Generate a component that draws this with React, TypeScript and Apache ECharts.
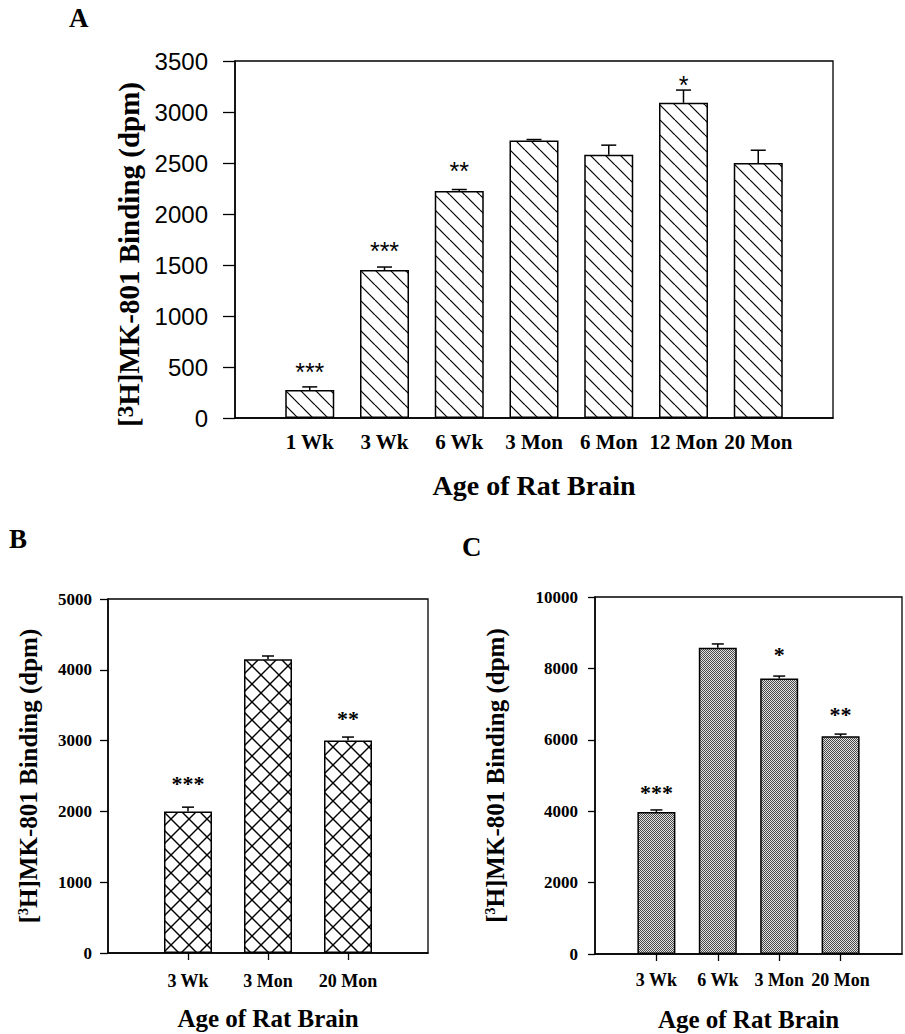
import React, { useEffect, useRef } from "react";
import * as echarts from "echarts";

const SERIF = "'Liberation Serif', 'Times New Roman', serif";
const SANS = "'Liberation Sans', Arial, sans-serif";

// Panel A
const catsA = ["1 Wk", "3 Wk", "6 Wk", "3 Mon", "6 Mon", "12 Mon", "20 Mon"];
const valsA = [275, 1450, 2225, 2720, 2580, 3090, 2500];
const errA = [30, 30, 15, 10, 95, 125, 125];
const starsA = ["***", "***", "**", "", "", "*", ""];
const starPosA = [490, 1676, 2461, 0, 0, 3304, 0];
const ticksA = { min: 0, max: 3500, interval: 500 };

// Panel B
const catsB = ["3 Wk", "3 Mon", "20 Mon"];
const valsB = [2000, 4150, 3000];
const errB = [60, 45, 50];
const starsB = ["***", "", "**"];
const starPosB = [2443, 0, 3361];
const ticksB = { min: 0, max: 5000, interval: 1000 };

// Panel C
const catsC = ["3 Wk", "6 Wk", "3 Mon", "20 Mon"];
const valsC = [3980, 8580, 7720, 6100];
const errC = [55, 105, 65, 60];
const starsC = ["***", "", "*", "**"];
const starPosC = [4622, 0, 8487, 6807];
const ticksC = { min: 0, max: 10000, interval: 2000 };

const yTitle = "{a|[}{s|3}{a|H]MK-801 Binding (dpm)}";
const xTitle = "Age of Rat Brain";

function patternImage(kind: string) {
  const c = document.createElement("canvas");
  if (kind === "dots") {
    c.width = 2;
    c.height = 2;
    const g = c.getContext("2d")!;
    g.fillStyle = "#e2e2e2";
    g.fillRect(0, 0, 2, 2);
    g.fillStyle = "#4a4a4a";
    g.fillRect(0, 0, 1, 1);
    g.fillRect(1, 1, 1, 1);
    return { image: c.toDataURL(), repeat: "repeat", imageWidth: 2, imageHeight: 2 };
  }
  const s = kind === "diag" ? 15 : 18;
  c.width = s;
  c.height = s;
  const g = c.getContext("2d")!;
  g.fillStyle = "#fff";
  g.fillRect(0, 0, s, s);
  g.strokeStyle = "#000";
  g.lineWidth = kind === "diag" ? 1.2 : 1.4;
  const seg = (x1: number, y1: number, x2: number, y2: number) => {
    g.beginPath();
    g.moveTo(x1, y1);
    g.lineTo(x2, y2);
    g.stroke();
  };
  for (const o of [-s, 0, s]) {
    seg(o, 0, o + s, s);
    if (kind === "cross") seg(o, s, o + s, 0);
  }
  return { image: c.toDataURL(), repeat: "repeat", imageWidth: s, imageHeight: s };
}

export default function App() {
  const ref = useRef<HTMLDivElement>(null);
  useEffect(() => {
    if (!ref.current) return;
    const chart = echarts.init(ref.current, undefined, { renderer: "svg" });

    const panels = [
      {
        cats: catsA, vals: valsA, errs: errA, stars: starsA, starPos: starPosA, ticks: ticksA,
        grid: { left: 235, top: 61, width: 598, height: 357 },
        barWidth: 49, cap: 15, pattern: patternImage("diag"),
        yLabel: { fontFamily: SANS, fontSize: 24, fontWeight: "normal", margin: 27 },
        tickLen: 12, xTicks: false,
        xLabel: { fontSize: 21, margin: 13 },
        xName: { fontSize: 28, gap: 53 },
        yName: { a: 29, s: 23, pb: 20, gap: 92, pad: [0, 30, 0, 0] },
        starFont: { fontFamily: SANS, fontSize: 25, fontWeight: "normal", shift: 4 },
      },
      {
        cats: catsB, vals: valsB, errs: errB, stars: starsB, starPos: starPosB, ticks: ticksB,
        grid: { left: 108, top: 599, width: 320, height: 354 },
        barWidth: 48, cap: 12, pattern: patternImage("cross"),
        yLabel: { fontFamily: SERIF, fontSize: 17, fontWeight: "bold", margin: 16 },
        tickLen: 8, xTicks: true,
        xLabel: { fontSize: 18, margin: 19 },
        xName: { fontSize: 25, gap: 53 },
        yName: { a: 25, s: 14, pb: 18, gap: 67, pad: [0, 0, 0, 0] },
        starFont: { fontFamily: SERIF, fontSize: 22, fontWeight: "bold", shift: 3.5 },
      },
      {
        cats: catsC, vals: valsC, errs: errC, stars: starsC, starPos: starPosC, ticks: ticksC,
        grid: { left: 595, top: 597, width: 320, height: 357 },
        barWidth: 38, cap: 12, pattern: patternImage("dots"),
        yLabel: { fontFamily: SERIF, fontSize: 17, fontWeight: "bold", margin: 17 },
        tickLen: 7, xTicks: true,
        xLabel: { fontSize: 18, margin: 17 },
        xName: { fontSize: 25, gap: 53 },
        yName: { a: 25, s: 14, pb: 18, gap: 87, pad: [0, 0, 0, 0] },
        starFont: { fontFamily: SERIF, fontSize: 22, fontWeight: "bold", shift: 3.5 },
      },
    ];

    const grid: any[] = [];
    const xAxis: any[] = [];
    const yAxis: any[] = [];
    const series: any[] = [];
    const axisLine = { show: true, lineStyle: { color: "#000", width: 1.5 } };

    panels.forEach((p, i) => {
      grid.push({ ...p.grid, show: true, borderColor: "#000", borderWidth: 1.3, backgroundColor: "transparent" });
      const n = p.cats.length;
      xAxis.push({
        gridIndex: i,
        type: "value",
        min: 0,
        max: n + 1,
        interval: 1,
        axisLine,
        axisTick: p.xTicks
          ? { show: true, length: 7, inside: false, customValues: p.cats.map((_, k) => k + 1), lineStyle: { color: "#000", width: 1.3 } }
          : { show: false },
        splitLine: { show: false },
        axisLabel: {
          formatter: (v: number) => p.cats[v - 1] ?? "",
          margin: p.xLabel.margin,
          fontFamily: SERIF,
          fontWeight: "bold",
          fontSize: p.xLabel.fontSize,
          color: "#000",
        },
        name: xTitle,
        nameLocation: "middle",
        nameGap: p.xName.gap,
        nameMoveOverlap: false,
        nameTextStyle: { fontFamily: SERIF, fontWeight: "bold", fontSize: p.xName.fontSize, color: "#000" },
      });
      yAxis.push({
        gridIndex: i,
        type: "value",
        min: p.ticks.min,
        max: p.ticks.max,
        interval: p.ticks.interval,
        axisLine,
        axisTick: { show: true, length: p.tickLen, lineStyle: { color: "#000", width: 1.3 } },
        splitLine: { show: false },
        axisLabel: { ...p.yLabel, color: "#000", formatter: (v: number) => String(v) },
        name: yTitle,
        nameLocation: "middle",
        nameRotate: 90,
        nameGap: p.yName.gap,
        nameMoveOverlap: false,
        nameTextStyle: {
          padding: p.yName.pad,
          rich: {
            a: { fontFamily: SERIF, fontWeight: "bold", fontSize: p.yName.a, lineHeight: p.yName.a, verticalAlign: "bottom", color: "#000" },
            s: { fontFamily: SERIF, fontWeight: "bold", fontSize: p.yName.s, lineHeight: p.yName.s, padding: [0, 0, p.yName.pb, 0], verticalAlign: "top", color: "#000" },
          },
        },
      });
      series.push({
        type: "bar",
        xAxisIndex: i,
        yAxisIndex: i,
        barWidth: p.barWidth,
        silent: true,
        data: p.vals.map((v, k) => [k + 1, v]),
        itemStyle: { color: p.pattern, borderColor: "#000", borderWidth: 1.5 },
      });
      series.push({
        type: "custom",
        xAxisIndex: i,
        yAxisIndex: i,
        silent: true,
        clip: false,
        z: 5,
        encode: { x: 0, y: 1 },
        data: p.vals.map((v, k) => [k + 1, v, p.errs[k]]),
        renderItem: (params: any, api: any) => {
          const k = params.dataIndex;
          const x = api.value(0);
          const v = api.value(1);
          const e = api.value(2);
          const p0 = api.coord([x, v]);
          const p1 = api.coord([x, v + e]);
          const st = { stroke: "#000", lineWidth: 1.5 };
          const children: any[] = [
            { type: "line", shape: { x1: p0[0], y1: p0[1], x2: p1[0], y2: p1[1] }, style: st },
            { type: "line", shape: { x1: p1[0] - p.cap / 2, y1: p1[1], x2: p1[0] + p.cap / 2, y2: p1[1] }, style: st },
          ];
          const star = p.stars[k];
          if (star) {
            const ps = api.coord([x, p.starPos[k]]);
            children.push({
              type: "text",
              style: {
                text: star,
                x: ps[0],
                y: ps[1] + p.starFont.shift,
                align: "center",
                verticalAlign: "middle",
                fontFamily: p.starFont.fontFamily,
                fontSize: p.starFont.fontSize,
                fontWeight: p.starFont.fontWeight,
                fill: "#000",
              },
            });
          }
          return { type: "group", children };
        },
      });
    });

    const panelLabel = (t: string, x: number, y: number) => ({
      type: "text",
      left: x,
      top: y,
      style: { text: t, fontFamily: SERIF, fontWeight: "bold", fontSize: 27, fill: "#000" },
    });

    chart.setOption({
      animation: false,
      backgroundColor: "#fff",
      grid,
      xAxis,
      yAxis,
      series,
      graphic: [panelLabel("A", 69, 4), panelLabel("B", 9, 525), panelLabel("C", 462, 533)],
    });
    return () => chart.dispose();
  }, []);
  return <div ref={ref} style={{ position: "fixed", left: 0, top: 0, width: 905, height: 1034 }} />;
}
